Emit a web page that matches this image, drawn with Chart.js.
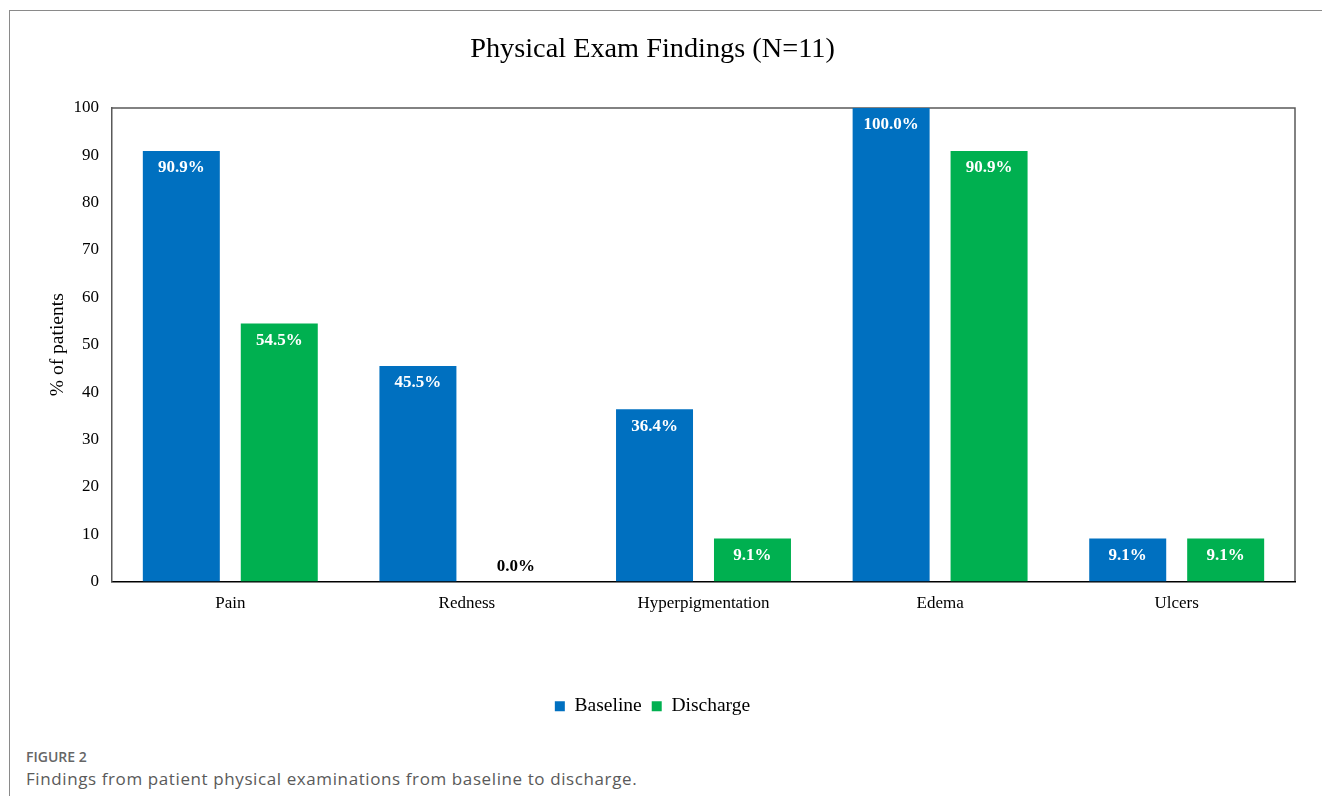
<!DOCTYPE html>
<html>
<head>
<meta charset="utf-8">
<script src="https://cdn.jsdelivr.net/npm/chart.js@4.4.1/dist/chart.umd.min.js"></script>
<style>
  body { margin: 0; background: #fff; width: 1322px; height: 796px; overflow: hidden; position: relative; }
  #frame { position: absolute; left: 9px; top: 10px; width: 1400px; height: 900px; border-left: 1px solid #8a8a8a; border-top: 1px solid #8a8a8a; }
  #grafico { position: absolute; left: 10px; top: 11px; }
  .fig { position: absolute; left: 26px; font-family: "Open Sans", sans-serif; color: #666; }
  #fig-num { top: 747px; font-size: 14px; font-weight: 600; }
  #fig-txt { top: 767px; font-size: 17px; letter-spacing: 0.6px; color: #5a5a5a; }
</style>
</head>
<body>
<div id="frame"></div>
<canvas id="grafico" width="1312" height="715"></canvas>
<div class="fig" id="fig-num">FIGURE 2</div>
<div class="fig" id="fig-txt">Findings from patient physical examinations from baseline to discharge.</div>
<script>
// Dados do gráfico
const categorias = ["Pain", "Redness", "Hyperpigmentation", "Edema", "Ulcers"];
const baseline = [90.9, 45.5, 36.4, 100.0, 9.1];
const discharge = [54.5, 0.0, 9.1, 90.9, 9.1];
const series = ["Baseline", "Discharge"];
const yTicks = [0, 10, 20, 30, 40, 50, 60, 70, 80, 90, 100];

const serif = "'Liberation Serif', 'Times New Roman', serif";

// rótulos de valor dentro das barras
const rotulos = {
  id: "rotulos",
  afterDatasetsDraw(chart) {
    const ctx = chart.ctx;
    ctx.save();
    ctx.font = "bold 17px " + serif;
    ctx.textAlign = "center";
    ctx.textBaseline = "middle";
    chart.data.datasets.forEach((ds, i) => {
      chart.getDatasetMeta(i).data.forEach((bar, j) => {
        const v = ds.data[j];
        const txt = v.toFixed(1) + "%";
        if (v === 0) {
          ctx.fillStyle = "#000";
          ctx.fillText(txt, bar.x, bar.base - 15);
        } else {
          ctx.fillStyle = "#fff";
          ctx.fillText(txt, bar.x, bar.y + 17);
        }
      });
    });
    ctx.restore();
  }
};

new Chart(document.getElementById("grafico"), {
  type: "bar",
  data: {
    labels: categorias,
    datasets: [
      { label: series[0], data: baseline, backgroundColor: "#0070C0", categoryPercentage: 0.828, barPercentage: 0.786 },
      { label: series[1], data: discharge, backgroundColor: "#00B050", categoryPercentage: 0.828, barPercentage: 0.786 }
    ]
  },
  options: {
    responsive: false,
    animation: false,
    layout: { padding: { left: 0, right: 27, top: 0, bottom: 0 } },
    plugins: {
      title: {
        display: true,
        text: "Physical Exam Findings (N=11)",
        color: "#000",
        font: { family: serif, size: 28.3, weight: "normal" },
        padding: { top: 22, bottom: 41 }
      },
      legend: {
        position: "bottom",
        labels: {
          color: "#000",
          font: { family: serif, size: 19.5 },
          boxWidth: 10,
          boxHeight: 10,
          padding: 10
        }
      },
      tooltip: { enabled: false }
    },
    scales: {
      x: {
        grid: { display: false, drawTicks: false },
        border: { color: "#000", width: 1.5 },
        ticks: { color: "#000", font: { family: serif, size: 17 }, padding: 12 },
        afterFit(scale) { scale.height = 105; }
      },
      y: {
        min: 0,
        max: 100,
        afterBuildTicks(scale) { scale.ticks = yTicks.map(v => ({ value: v })); },
        grid: { display: false, drawTicks: false },
        border: { color: "#595959", width: 1.5 },
        ticks: { color: "#000", font: { family: serif, size: 17 }, padding: 13 },
        title: {
          display: true,
          text: "% of patients",
          color: "#000",
          font: { family: serif, size: 19.5 },
          padding: { top: 36, bottom: 0 }
        },
        afterFit(scale) { scale.width = 102; }
      }
    }
  },
  plugins: [rotulos, {
    id: "bordaPlot",
    beforeDraw(chart) {
      const a = chart.chartArea, ctx = chart.ctx;
      ctx.save();
      ctx.strokeStyle = "#595959";
      ctx.lineWidth = 1.5;
      ctx.beginPath();
      ctx.moveTo(a.left, a.top);
      ctx.lineTo(a.right, a.top);
      ctx.lineTo(a.right, a.bottom);
      ctx.stroke();
      ctx.restore();
    }
  }]
});
</script>
</body>
</html>
